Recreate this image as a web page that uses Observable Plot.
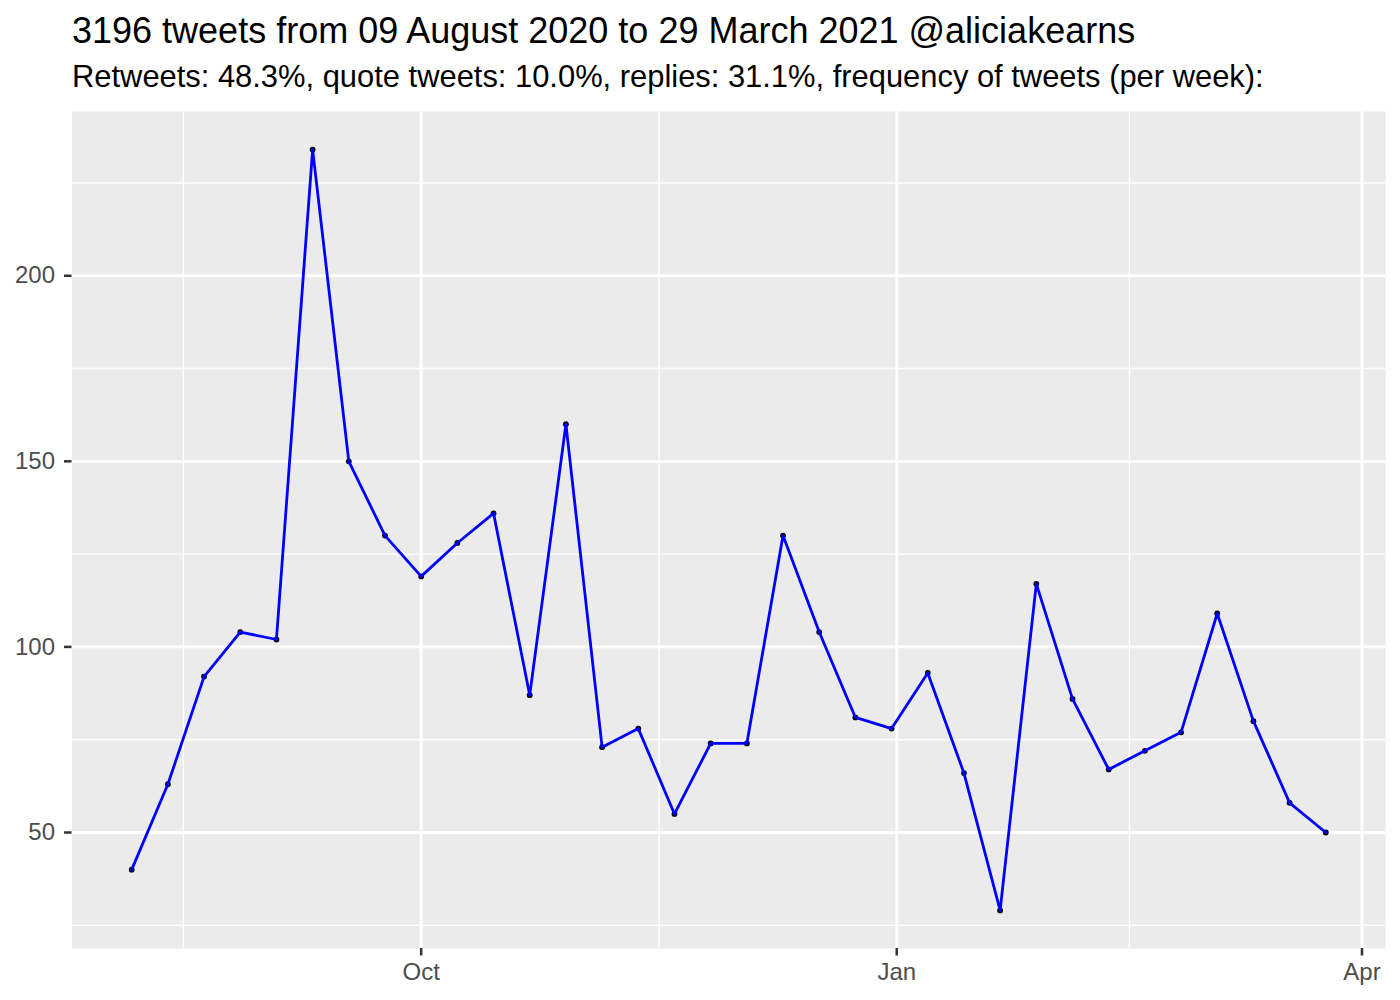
<!DOCTYPE html>
<html>
<head>
<meta charset="utf-8">
<script src="https://cdn.jsdelivr.net/npm/d3@7"></script>
<script src="https://cdn.jsdelivr.net/npm/@observablehq/plot@0.6"></script>
<style>
  html, body { margin: 0; padding: 0; background: #ffffff; }
  #wrap { position: relative; width: 1400px; height: 1000px; font-family: "Liberation Sans", Arial, Helvetica, sans-serif; }
  #title { position: absolute; left: 72px; top: 13px; font-size: 36px; line-height: 36px; color: #000; white-space: nowrap; }
  #subtitle { position: absolute; left: 72px; top: 61px; font-size: 30.9px; line-height: 31px; color: #000; white-space: nowrap; }
  #chart { position: absolute; left: 0; top: 0; }
</style>
</head>
<body>
<div id="wrap">
  <div id="chart"></div>
  <div id="title">3196 tweets from 09 August 2020 to 29 March 2021 @aliciakearns</div>
  <div id="subtitle">Retweets: 48.3%, quote tweets: 10.0%, replies: 31.1%, frequency of tweets (per week):</div>
</div>
<script>
const weeks = [
  "2020-08-06","2020-08-13","2020-08-20","2020-08-27",
  "2020-09-03","2020-09-10","2020-09-17","2020-09-24",
  "2020-10-01","2020-10-08","2020-10-15","2020-10-22","2020-10-29",
  "2020-11-05","2020-11-12","2020-11-19","2020-11-26",
  "2020-12-03","2020-12-10","2020-12-17","2020-12-24","2020-12-31",
  "2021-01-07","2021-01-14","2021-01-21","2021-01-28",
  "2021-02-04","2021-02-11","2021-02-18","2021-02-25",
  "2021-03-04","2021-03-11","2021-03-18","2021-03-25"
];
const tweetsPerWeek = [
  40, 63, 92, 104, 102, 234, 150, 130, 119, 128, 136, 87, 160,
  73, 78, 55, 74, 74, 130, 104, 81, 78, 93, 66, 29, 117,
  86, 67, 72, 77, 109, 80, 58, 50
];
const xMajorTicks = ["2020-10-01", "2021-01-01", "2021-04-01"];
const xMajorLabels = ["Oct", "Jan", "Apr"];
const xMinorTicks = ["2020-08-16", "2020-11-16", "2021-02-15"];
const yMajorTicks = [50, 100, 150, 200];
const yMinorTicks = [25, 75, 125, 175, 225];

const parse = s => new Date(s + "T00:00:00Z");
const data = weeks.map((w, i) => ({date: parse(w), n: tweetsPerWeek[i]}));

// ggplot-like 5% expansion
const dmin = d3.min(data, d => +d.date), dmax = d3.max(data, d => +d.date);
const dpad = (dmax - dmin) * 0.05;
const ymin = d3.min(tweetsPerWeek), ymax = d3.max(tweetsPerWeek);
const ypad = (ymax - ymin) * 0.05;

const majorX = xMajorTicks.map(parse);
const minorX = xMinorTicks.map(parse);
const labelFor = new Map(majorX.map((d, i) => [+d, xMajorLabels[i]]));

const chart = Plot.plot({
  width: 1400,
  height: 1000,
  marginLeft: 71.5,
  marginRight: 15,
  marginTop: 111,
  marginBottom: 52,
  style: {fontFamily: "'Liberation Sans', Arial, Helvetica, sans-serif", background: "transparent"},
  x: {type: "utc", domain: [new Date(dmin - dpad), new Date(dmax + dpad)]},
  y: {domain: [ymin - ypad, ymax + ypad]},
  marks: [
    Plot.frame({fill: "#EBEBEB", stroke: null}),
    Plot.ruleY(yMinorTicks, {stroke: "#FFFFFF", strokeWidth: 1.45}),
    Plot.ruleX(minorX, {stroke: "#FFFFFF", strokeWidth: 1.45}),
    Plot.ruleY(yMajorTicks, {stroke: "#FFFFFF", strokeWidth: 2.9}),
    Plot.ruleX(majorX, {stroke: "#FFFFFF", strokeWidth: 2.9}),
    Plot.dot(data, {x: "date", y: "n", r: 2.9, fill: "#000000", stroke: null}),
    Plot.line(data, {x: "date", y: "n", stroke: "#0000FF", strokeWidth: 2.8}),
    Plot.axisX({
      ticks: majorX,
      tickFormat: d => labelFor.get(+d),
      tickSize: 7.5,
      tickPadding: 7,
      strokeWidth: 2.5,
      stroke: "#333333",
      fill: "#4D4D4D",
      fontSize: 24,
      label: null
    }),
    Plot.axisY({
      ticks: yMajorTicks,
      tickSize: 7.5,
      tickPadding: 9.5,
      strokeWidth: 2.5,
      stroke: "#333333",
      fill: "#4D4D4D",
      fontSize: 24,
      label: null
    })
  ]
});
document.getElementById("chart").appendChild(chart);
</script>
</body>
</html>
